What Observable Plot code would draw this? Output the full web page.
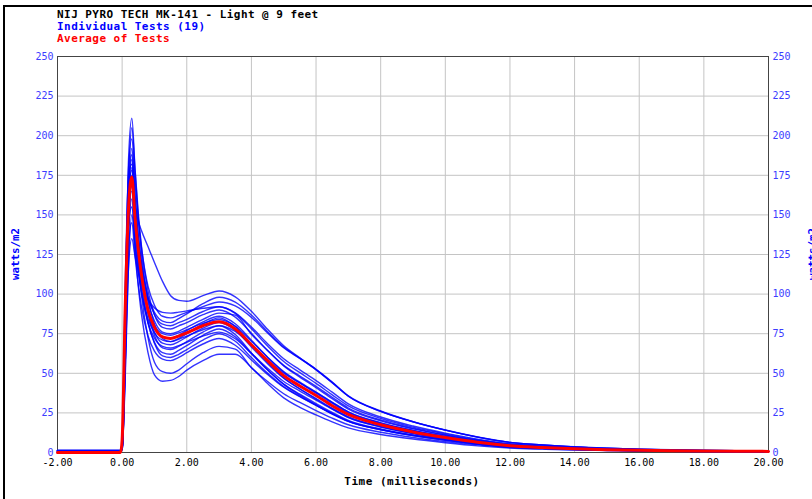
<!DOCTYPE html>
<html>
<head>
<meta charset="utf-8">
<script src="https://cdn.jsdelivr.net/npm/d3@7"></script>
<script src="https://cdn.jsdelivr.net/npm/@observablehq/plot@0.6"></script>
<style>
  html, body { margin: 0; padding: 0; background: #fff; }
  body { width: 812px; height: 499px; position: relative; overflow: hidden; font-family: "DejaVu Sans Mono", monospace; }
  #chart { position: absolute; left: 0; top: 0; }
  .frame { position: absolute; left: 3px; top: 5px; width: 900px; height: 600px; border-left: 2px solid #000; border-top: 2px solid #000; }
  .t { position: absolute; left: 57px; font-weight: bold; font-size: 11px; line-height: 12px; letter-spacing: 0.45px; white-space: nowrap; }
  .rot { position: absolute; transform: translate(-50%, -50%) rotate(-90deg); font-weight: bold; font-size: 10.8px; color: #0000ff; white-space: nowrap; line-height: 12px; }
  .xl { position: absolute; transform: translateX(-50%); font-weight: bold; font-size: 11px; letter-spacing: 0.5px; white-space: nowrap; line-height: 12px; }
</style>
</head>
<body>
<div class="frame"></div>
<div id="chart"></div>
<div class="t" style="top:8.5px;color:#000">NIJ PYRO TECH MK-141 - Light @ 9 feet</div>
<div class="t" style="top:20.8px;color:#0000ff">Individual Tests (19)</div>
<div class="t" style="top:33.4px;color:#ff0000">Average of Tests</div>
<div class="rot" style="left:15.5px;top:254px">watts/m2</div>
<div class="rot" style="left:812.5px;top:254px">watts/m2</div>
<div class="xl" style="left:412px;top:476px">Time (milliseconds)</div>
<script>
// time grid (milliseconds)
const time = [-2, -0.05, 0, 0.1, 0.2, 0.3, 0.4, 0.5, 0.6, 0.8, 1.0, 1.25, 1.5, 1.75, 2.0, 2.5, 3.0, 3.5, 4.0, 4.5, 5.0, 5.5, 6.0, 6.5, 7.0, 8.0, 9.0, 10, 11, 12, 13, 14, 15, 16, 17, 18, 19, 20];

// individual tests (watts/m2)
const test1  = [1,1,5,95,186,211,179,151,130,102,87,79,78,80,82,87,90, 85.5,75.3,64.4,54.7,47.6,40.9,34,27.4,20,14.9,10.9,7.5,4.9,3.7,2.7,2.1,1.6,1.3,1.0,0.9,0.8];
const test2  = [1.2,1.2,3,70,170,205,178,148,125,97,81,72,70,72,75,81,85, 79.5,67.9,56.8,47.1,40.1,33.7,27.5,22.2,16.2,12.1,8.8,6.0,4.0,3.0,2.2,1.7,1.3,1.0,0.85,0.75,0.65];
const test3  = [1,1,6,100,180,198,171,147,129,105,93,86,85,86.5,88.5,92,95, 92.5,85.3,75.5,66.1,59.4,52.5,44.5,35.8,26.2,19.5,14.2,9.8,6.4,4.8,3.6,2.7,2.1,1.7,1.4,1.2,1.05];
const test4  = [0.8,0.8,2,60,160,192,161.5,135,114.5,88,74,66,65,67,70,76,80, 74.5,62.9,52.2,43,36.2,30.1,24.5,19.7,14.4,10.7,7.8,5.4,3.5,2.65,2.0,1.5,1.15,0.9,0.75,0.65,0.6];
const test5  = [1,1,4,85,165,188,161,137,119,95,83,76,75,76.5,79,84,88, 86.7,74.7,64.4,55,48.3,41.7,34.9,28.1,20.5,15.3,11.1,7.6,5.0,3.8,2.8,2.1,1.65,1.3,1.05,0.95,0.8];
const test6  = [1,1,3,75,160,185,155,129,109,82.5,69,61,60,62,65,71,75, 70.2,59.9,50.1,41.6,35.4,29.7,24.3,19.6,14.3,10.7,7.8,5.3,3.5,2.6,2.0,1.5,1.15,0.9,0.75,0.65,0.6];
const test7  = [1.5,1.5,8,110,175,182,157.5,136,120,98,87,81,80,82,84,89,92, 88.2,79.2,68.7,59.2,52.2,45.4,38.1,30.7,22.4,16.7,12.2,8.4,5.5,4.1,3.1,2.3,1.8,1.4,1.15,1.0,0.9];
const test8  = [1,1,2,65,150,180,153,129.6,111.7,88,76,69,68,70,73,78.5,82, 77.1,66.6,56.1,46.9,40.2,34.1,28,22.6,16.5,12.3,8.9,6.2,4.0,3.0,2.3,1.7,1.3,1.05,0.85,0.75,0.65];
const test9  = [1,1,5,90,165,178,152.5,130,113,91,79.5,73,72,74,77,82.5,86, 81.3,70.9,60.2,50.7,43.9,37.4,31,24.9,18.2,13.6,9.9,6.8,4.5,3.35,2.5,1.9,1.46,1.16,0.95,0.83,0.73];
const test10 = [1,1,3,70,150,175,145,119,99,72.5,57,51,50,52,56,63,67, 65.3,53.5,44.8,37.1,31.6,26.5,21.7,17.5,12.8,9.5,6.9,4.8,3.15,2.35,1.75,1.3,1.0,0.8,0.65,0.6,0.5];
const test11 = [1.3,1.3,6,95,160,172,150,131.5,117,98,88.5,83,82,84.5,87.5,94,98, 94.9,86.8,76.3,66.5,59.4,52.2,44.1,35.5,26,19.4,14.1,9.7,6.4,4.8,3.55,2.7,2.1,1.65,1.35,1.2,1.05];
const test12 = [0.8,0.8,2,55,140,170,144,121,104,81.5,69.5,63,62,64.5,67.5,74,78, 73,62.4,52.1,43.2,36.8,30.9,25.3,20.3,14.9,11.1,8.1,5.5,3.65,2.75,2.05,1.55,1.2,0.95,0.8,0.7,0.6];
const test13 = [1,1,4,80,150,168,155,146,140,130,120,108,99,96,95.5,99,102, 98.3,89.1,77.8,67.4,59.8,52.4,44.1,35.5,25.9,19.3,14.1,9.7,6.4,4.8,3.55,2.7,2.1,1.65,1.35,1.2,1.05];
const test14 = [1,1,3,75,145,165,143,124,109.5,90.4,80.4,75,74,75.5,77.5,81.5,84, 79.8,70.2,60.1,51.1,44.4,38.1,31.7,25.6,18.7,14,10.1,7,4.6,3.4,2.55,1.95,1.5,1.2,0.97,0.85,0.75];
const test15 = [0.8,0.8,2,60,135,160,130,105,87,63,49,45,45.5,48,52,58,62, 62,53.6,43.5,34.5,28.5,23.7,19.3,15.5,11.4,8.5,6.2,4.2,2.8,2.1,1.55,1.2,0.9,0.7,0.6,0.5,0.45];
const test16 = [1,1,5,85,145,155,133.6,115,100.7,82,72.2,67,66,67.5,69.5,73.5,76, 71.8,62.6,53.2,44.8,38.8,33.1,27.4,22,16.1,12,8.74,6,3.95,2.96,2.2,1.67,1.29,1.03,0.84,0.74,0.65];
const test17 = [1,1,2,50,120,150,131,114,101,84.4,75.6,71,70,71.5,73.5,77.5,80, 76.4,67.9,58.5,50,43.9,37.9,31.7,25.5,18.7,13.9,10.1,6.95,4.6,3.4,2.55,1.95,1.5,1.2,0.97,0.85,0.75];
const test18 = [1,1,4,75,130,145,124,106,92,73.7,64,59,58,60,63,68.5,72, 67.7,58.4,49.3,41.2,35.3,29.9,24.6,19.8,14.5,10.8,7.9,5.4,3.55,2.65,2,1.5,1.15,0.92,0.75,0.66,0.58];
const test19 = [1.2,1.2,3,60,118,135,123.7,114,106,96.5,91.3,88.5,88,88.6,89.4,91,92, 87.8,78.1,67.3,57.5,50.4,43.6,36.4,29.4,21.5,16,11.7,8,5.3,3.95,2.95,2.2,1.7,1.35,1.1,0.98,0.86];

// average of tests (watts/m2)
const average = [0,0,8,95,155,174,148,128,112,90,79,73,72,73.5,75.5,80,82.5, 78,68,58,48.5,42,36,29.5,24,17.5,13,9.5,6.5,4.3,3.2,2.4,1.8,1.4,1.1,0.9,0.8,0.7];

// tick labels
const xTicks = [-2, 0, 2, 4, 6, 8, 10, 12, 14, 16, 18, 20];
const yTicks = [0, 25, 50, 75, 100, 125, 150, 175, 200, 225, 250];

const tests = [test1,test2,test3,test4,test5,test6,test7,test8,test9,test10,test11,test12,test13,test14,test15,test16,test17,test18,test19];
const testRows = tests.flatMap((s, i) => s.map((v, j) => ({test: i + 1, t: time[j], v})));
const avgRows = average.map((v, j) => ({t: time[j], v}));

const tickBlue = "#3c3cff";
const chart = Plot.plot({
  width: 812,
  height: 499,
  marginLeft: 57,
  marginRight: 44,
  marginTop: 56,
  marginBottom: 47,
  style: {fontFamily: "DejaVu Sans Mono, monospace", fontSize: "10px", background: "transparent", overflow: "visible"},
  x: {domain: [-2, 20], ticks: xTicks},
  y: {domain: [0, 250], ticks: yTicks},
  marks: [
    Plot.gridX(xTicks, {stroke: "#c4c4c4", strokeOpacity: 1}),
    Plot.gridY(yTicks, {stroke: "#c4c4c4", strokeOpacity: 1}),
    Plot.frame({stroke: "#444"}),
    Plot.axisX(xTicks, {tickSize: 0, tickPadding: 6, tickFormat: d => d.toFixed(2), fill: "#000", label: null}),
    Plot.axisY(yTicks, {anchor: "left", tickSize: 0, tickPadding: 4, fill: tickBlue, label: null}),
    Plot.axisY(yTicks, {anchor: "right", tickSize: 0, tickPadding: 4, fill: tickBlue, label: null}),
    Plot.line(testRows, {x: "t", y: "v", z: "test", curve: "monotone-x", stroke: "#0000ff", strokeWidth: 1.4, strokeOpacity: 0.8}),
    Plot.line(avgRows, {x: "t", y: "v", curve: "monotone-x", stroke: "#ff0000", strokeWidth: 3})
  ]
});
document.getElementById("chart").appendChild(chart);
</script>
</body>
</html>
